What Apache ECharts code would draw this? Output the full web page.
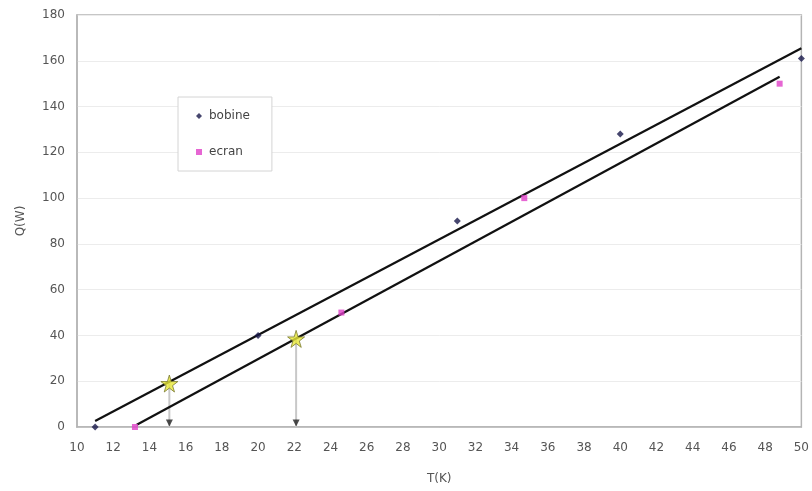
<!DOCTYPE html>
<html><head><meta charset="utf-8">
<script src="https://cdn.jsdelivr.net/npm/echarts@6/dist/echarts.min.js"></script>
<style>html,body{margin:0;padding:0;background:#fff}#c{width:812px;height:491px}</style>
</head><body><div id="c"></div>
<script>
var xTicks = [10,12,14,16,18,20,22,24,26,28,30,32,34,36,38,40,42,44,46,48,50];
var yTicks = [0,20,40,60,80,100,120,140,160,180];
var bobineT = [11, 20, 31, 40, 50];
var bobineQ = [0, 40, 90, 128, 161];
var ecranT = [13.2, 24.6, 34.7, 48.8];
var ecranQ = [0, 50, 100, 150];
var fitBobineT = [11, 50];
var fitBobineQ = [2.6, 165.5];
var fitEcranT = [13.3, 48.8];
var fitEcranQ = [1, 153];
var starT = [15.1, 22.1];
var starQ = [19, 38.5];

function pairs(a, b){ return a.map(function(v,i){ return [v, b[i]]; }); }
var font = 'DejaVu Sans';
var series = [
  {name:'fitB', type:'line', data:pairs(fitBobineT, fitBobineQ), symbol:'none', lineStyle:{color:'#111', width:2.2}, z:3},
  {name:'fitE', type:'line', data:pairs(fitEcranT, fitEcranQ), symbol:'none', lineStyle:{color:'#111', width:2.2}, z:3},
  {name:'bobine', type:'scatter', data:pairs(bobineT, bobineQ), symbol:'diamond', symbolSize:7, itemStyle:{color:'#18184a'}, clip:false, z:4},
  {name:'ecran', type:'scatter', data:pairs(ecranT, ecranQ), symbol:'rect', symbolSize:6, itemStyle:{color:'#e040c8'}, clip:false, z:4}
];
starT.forEach(function(t, i){
  series.push({name:'drop'+i, type:'line', data:[[t, starQ[i]],[t, 0]], symbol:'none', lineStyle:{color:'#c8c8c8', width:2}, z:2});
  series.push({name:'arrow'+i, type:'scatter', data:[[t, 0]], symbol:'triangle', symbolRotate:180, symbolSize:[7,7], symbolOffset:[0,-4], itemStyle:{color:'#222'}, z:5});
});
series.push({name:'stars', type:'scatter', data:pairs(starT, starQ), symbol:'path://M50,0 L61,35 L98,35 L68,57 L79,91 L50,70 L21,91 L32,57 L2,35 L39,35 Z', symbolSize:17, itemStyle:{color:'#e8e838', borderColor:'#7a7a30', borderWidth:1}, z:6});

var chart = echarts.init(document.getElementById('c'));
chart.setOption({
  animation:false,
  grid:{left:77, right:10, top:15, bottom:64, show:true, borderColor:'#b4b4b4', borderWidth:1.5, backgroundColor:'#fff'},
  xAxis:{type:'value', min:10, max:50, interval:2, name:'T(K)', nameLocation:'middle', nameGap:46,
    nameTextStyle:{fontFamily:font, fontSize:12, color:'#555'},
    axisLine:{show:true, lineStyle:{color:'#b4b4b4', width:1.5}}, axisTick:{show:false},
    axisLabel:{fontFamily:font, fontSize:12, color:'#555', margin:15, formatter:function(v){return xTicks.indexOf(v)>=0?String(v):'';}},
    splitLine:{show:false}},
  yAxis:{type:'value', min:0, max:180, interval:20, name:'Q(W)', nameLocation:'middle', nameGap:50, nameRotate:90,
    nameTextStyle:{fontFamily:font, fontSize:12, color:'#555'},
    axisLine:{show:true, lineStyle:{color:'#b4b4b4', width:1.5}}, axisTick:{show:false},
    axisLabel:{fontFamily:font, fontSize:12, color:'#555', margin:12, formatter:function(v){return yTicks.indexOf(v)>=0?String(v):'';}},
    splitLine:{show:true, lineStyle:{color:'#ececec', width:1}}},
  legend:{data:[{name:'bobine', icon:'diamond'},{name:'ecran', icon:'rect'}], orient:'vertical', left:178, top:97,
    padding:[13,22,13,18], itemGap:24, itemWidth:6, itemHeight:6, backgroundColor:'#fff', borderColor:'#d4d4d4', borderWidth:1,
    textStyle:{fontFamily:font, fontSize:12, color:'#444', padding:[0,0,0,2], lineHeight:12}},
  series:series
});
</script></body></html>
